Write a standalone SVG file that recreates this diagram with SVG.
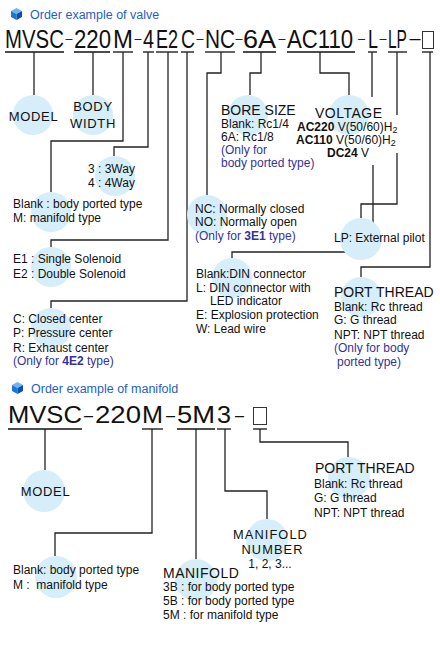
<svg xmlns="http://www.w3.org/2000/svg" width="440" height="650" viewBox="0 0 440 650">
<style>
.t{font-family:"Liberation Sans",Arial,sans-serif;font-size:12px;fill:#111}
.h{font-size:14px}
.l{font-size:13px;letter-spacing:0.7px}
.mn{font-size:12.8px;letter-spacing:1.1px}
.n{fill:#33339a}
.hd{font-family:"Liberation Sans",Arial,sans-serif;font-size:12.5px;fill:#1f5fc4}
.code{font-family:"Liberation Sans",Arial,sans-serif;fill:#111}
.c{fill:#d5eef9}
.ln{fill:none;stroke:#222;stroke-width:1.3}
.u{stroke:#111;stroke-width:1.3}
.box{fill:#fff;stroke:#333;stroke-width:1}
</style>
<defs>
<g id="cube">
<polygon points="5.5,0 11,3 5.5,6 0,3" fill="#6db4f5"/>
<polygon points="0,3 5.5,6 5.5,12 0,9" fill="#1f74dc"/>
<polygon points="5.5,6 11,3 11,9 5.5,12" fill="#0c4fb3"/>
</g>
</defs>

<g id="header-valve">
<use href="#cube" x="11" y="8"/>
<text class="hd" x="30" y="19">Order example of valve</text>
</g>

<g id="code-valve">
<text class="code" transform="translate(5,48) scale(1,1.224)" style="font-size:20.4px">MVSC</text>
<text class="code" x="65.5" y="42.5" style="font-size:12.6px">–</text>
<text class="code" transform="translate(74,48) scale(1,1.127)" style="font-size:22.2px">220</text>
<text class="code" transform="translate(113,48) scale(1,1.04)" style="font-size:24px">M</text>
<text class="code" x="134.5" y="42.5" style="font-size:12.6px">–</text>
<text class="code" transform="translate(143,48) scale(1,1.26)" style="font-size:19.8px">4</text>
<text class="code" transform="translate(156,48) scale(1,1.39)" style="font-size:18px">E2</text>
<text class="code" transform="translate(181,48) scale(1,1.29)" style="font-size:19.4px">C</text>
<text class="code" x="196.5" y="42.5" style="font-size:12.6px">–</text>
<text class="code" transform="translate(205,48) scale(1,1.2)" style="font-size:20.8px">NC</text>
<text class="code" x="235.5" y="42.5" style="font-size:12.6px">–</text>
<text class="code" transform="translate(243,48) scale(1,0.926)" style="font-size:27px">6A</text>
<text class="code" x="278.5" y="42.5" style="font-size:12.6px">–</text>
<text class="code" transform="translate(287,48) scale(1,1.124)" style="font-size:22.2px">AC110</text>
<text class="code" x="358" y="42.5" style="font-size:12.6px">–</text>
<text class="code" transform="translate(368,48) scale(1,1.39)" style="font-size:18px">L</text>
<text class="code" x="379.5" y="42.5" style="font-size:12.6px">–</text>
<text class="code" transform="translate(388,48) scale(1,1.61)" style="font-size:15.5px">LP</text>
<text class="code" x="409.5" y="44.5" style="font-size:19.8px">–</text>
<rect class="box" x="422.5" y="31.5" width="11" height="17"/>
<g class="u">
<line x1="5" y1="52" x2="64" y2="52"/>
<line x1="74" y1="52" x2="110" y2="52"/>
<line x1="113" y1="52" x2="133" y2="52"/>
<line x1="143" y1="52" x2="154" y2="52"/>
<line x1="156" y1="52" x2="178" y2="52"/>
<line x1="181" y1="52" x2="194" y2="52"/>
<line x1="205" y1="52" x2="235" y2="52"/>
<line x1="243" y1="52" x2="276" y2="52"/>
<line x1="287" y1="52" x2="355" y2="52"/>
<line x1="368" y1="52" x2="377" y2="52"/>
<line x1="388" y1="52" x2="407" y2="52"/>
<line x1="422" y1="52" x2="433" y2="52"/>
</g>
</g>

<g id="connectors">
<path class="ln" d="M34 52V95"/>
<path class="ln" d="M93 52V95"/>
<path class="ln" d="M123 52V141H51V192"/>
<path class="ln" d="M148 52V147H114V156"/>
<path class="ln" d="M168 52V240H51V247"/>
<path class="ln" d="M187 52V301H51V308"/>
<path class="ln" d="M221 52V73H207V195"/>
<path class="ln" d="M261 52V73H250V95"/>
<path class="ln" d="M320 52V73H349V95"/>
<path class="ln" d="M372 52V97M373 165V252H232V258"/>
<path class="ln" d="M397 52V115M397 153V204H361V218"/>
<path class="ln" d="M430 52V267H361V277"/>
<path class="ln" d="M45 429V470"/>
<path class="ln" d="M152 429V533H55V556"/>
<path class="ln" d="M196 429V559"/>
<path class="ln" d="M225 429V491H267V519"/>
<path class="ln" d="M260 429V442H348V457"/>
</g>

<g id="node-model">
<circle class="c" cx="33" cy="115" r="20"/>
<text class="t l" x="33.5" y="121" text-anchor="middle">MODEL</text>
</g>
<g id="node-body-width">
<circle class="c" cx="93" cy="115" r="20"/>
<text class="t l" x="93" y="111" text-anchor="middle">BODY</text>
<text class="t l" x="93" y="128" text-anchor="middle">WIDTH</text>
</g>
<g id="node-way">
<circle class="c" cx="115" cy="176" r="20"/>
<text class="t" x="88" y="173">3 : 3Way</text>
<text class="t" x="88" y="187">4 : 4Way</text>
</g>
<g id="node-porting">
<circle class="c" cx="51" cy="212" r="20"/>
<text class="t" x="13" y="208">Blank : body ported type</text>
<text class="t" x="13" y="222">M: manifold type</text>
</g>
<g id="node-solenoid">
<circle class="c" cx="51" cy="267" r="20"/>
<text class="t" x="13" y="263">E1 : Single Solenoid</text>
<text class="t" x="13" y="278">E2 : Double Solenoid</text>
</g>
<g id="node-center">
<circle class="c" cx="51" cy="328" r="20"/>
<text class="t" x="13" y="323">C: Closed center</text>
<text class="t" x="13" y="337">P: Pressure center</text>
<text class="t" x="13" y="352">R: Exhaust center</text>
<text class="t n" x="13" y="365">(Only for <tspan font-weight="bold">4E2</tspan> type)</text>
</g>
<g id="node-bore">
<circle class="c" cx="248" cy="115" r="20"/>
<text class="t h" x="221" y="115">BORE SIZE</text>
<text class="t" x="221" y="128">Blank: Rc1/4</text>
<text class="t" x="221" y="141">6A: Rc1/8</text>
<text class="t n" x="221" y="154">(Only for</text>
<text class="t n" x="221" y="167">body ported type)</text>
</g>
<g id="node-voltage">
<circle class="c" cx="349" cy="115" r="20"/>
<text class="t h" x="315" y="118" letter-spacing="0.5">VOLTAGE</text>
<text class="t" x="297" y="131"><tspan font-weight="bold">AC220</tspan> V(50/60)H<tspan font-size="9" dy="2">2</tspan></text>
<text class="t" x="296" y="144"><tspan font-weight="bold">AC110</tspan> V(50/60)H<tspan font-size="9" dy="2">2</tspan></text>
<text class="t" x="327" y="157"><tspan font-weight="bold">DC24</tspan> V</text>
</g>
<g id="node-nc">
<circle class="c" cx="207" cy="215" r="20"/>
<text class="t" x="195" y="213">NC: Normally closed</text>
<text class="t" x="195" y="226">NO: Normally open</text>
<text class="t n" x="195" y="240">(Only for <tspan font-weight="bold">3E1</tspan> type)</text>
</g>
<g id="node-lp">
<circle class="c" cx="361" cy="239" r="21"/>
<text class="t" x="334" y="242">LP: External pilot</text>
</g>
<g id="node-connector">
<circle class="c" cx="232" cy="278" r="20"/>
<text class="t" x="196" y="278">Blank:DIN connector</text>
<text class="t" x="196" y="292">L: DIN connector with</text>
<text class="t" x="210" y="305">LED indicator</text>
<text class="t" x="196" y="319">E: Explosion protection</text>
<text class="t" x="196" y="333">W: Lead wire</text>
</g>
<g id="node-port-thread">
<circle class="c" cx="361" cy="297" r="20"/>
<text class="t h" x="334" y="297">PORT THREAD</text>
<text class="t" x="334" y="311">Blank: Rc thread</text>
<text class="t" x="334" y="324">G: G thread</text>
<text class="t" x="334" y="339">NPT: NPT thread</text>
<text class="t n" x="334" y="352">(Only for body</text>
<text class="t n" x="337" y="366">ported type)</text>
</g>

<g id="header-manifold">
<use href="#cube" x="12" y="382"/>
<text class="hd" x="31" y="393">Order example of manifold</text>
</g>

<g id="code-manifold">
<text class="code" transform="translate(8,423) scale(1,0.925)" style="font-size:25.6px">MVSC</text>
<text class="code" x="84" y="420.5" style="font-size:16.2px">–</text>
<text class="code" transform="translate(95,423) scale(1,0.86)" style="font-size:27.6px">220</text>
<text class="code" transform="translate(142,423) scale(1,0.94)" style="font-size:25.2px">M</text>
<text class="code" x="166" y="420.5" style="font-size:16.2px">–</text>
<text class="code" transform="translate(177,423) scale(1,0.865)" style="font-size:27.4px">5M</text>
<text class="code" transform="translate(217,423) scale(1,0.94)" style="font-size:25.2px">3</text>
<text class="code" x="235" y="420.5" style="font-size:16.2px">–</text>
<rect class="box" x="253.5" y="407.5" width="13" height="17"/>
<g class="u">
<line x1="8" y1="429" x2="82" y2="429"/>
<line x1="142" y1="429" x2="163" y2="429"/>
<line x1="177" y1="429" x2="215" y2="429"/>
<line x1="217" y1="429" x2="231" y2="429"/>
<line x1="253" y1="429" x2="267" y2="429"/>
</g>
</g>

<g id="node-m-model">
<circle class="c" cx="44" cy="491" r="21"/>
<text class="t l" x="45.5" y="496" text-anchor="middle">MODEL</text>
</g>
<g id="node-m-porting">
<circle class="c" cx="56" cy="577" r="21"/>
<text class="t" x="13" y="574">Blank: body ported type</text>
<text class="t" x="13" y="589" xml:space="preserve">M :  manifold type</text>
</g>
<g id="node-m-manifold">
<circle class="c" cx="196" cy="580" r="21"/>
<text class="t h" x="163" y="578" letter-spacing="0.5">MANIFOLD</text>
<text class="t" x="163" y="591">3B : for body ported type</text>
<text class="t" x="163" y="605">5B : for body ported type</text>
<text class="t" x="163" y="619">5M : for manifold type</text>
</g>
<g id="node-m-number">
<circle class="c" cx="267" cy="540" r="21"/>
<text class="t mn" x="270.5" y="539" text-anchor="middle">MANIFOLD</text>
<text class="t mn" x="272.5" y="554" text-anchor="middle">NUMBER</text>
<text class="t" x="270" y="568" text-anchor="middle">1, 2, 3...</text>
</g>
<g id="node-m-port-thread">
<circle class="c" cx="349" cy="478" r="21"/>
<text class="t h" x="315" y="473">PORT THREAD</text>
<text class="t" x="314" y="488">Blank: Rc thread</text>
<text class="t" x="314" y="502">G: G thread</text>
<text class="t" x="314" y="517">NPT: NPT thread</text>
</g>
</svg>
